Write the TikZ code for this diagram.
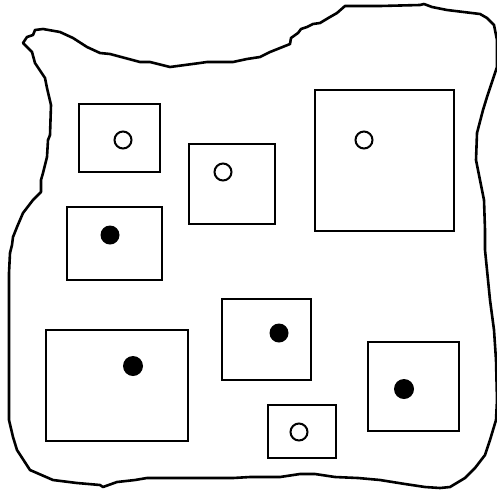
\documentclass[tikz,border=0pt]{standalone}
\usepackage{xcolor}

\begin{document}
\begin{tikzpicture}[x=1pt,y=-1pt,line width=2.2pt,
    box/.style={draw=black,line width=2.2pt},
    hole/.style={draw=black,fill=white,line width=2pt},
    dot/.style={fill=black}]
    \useasboundingbox (0,0) rectangle (497,490);
    % --- rough outline ---
    \draw[line width=2.6pt,line join=round]
      (23,43) -- (27,37) -- (33,35) -- (35,30) -- (43,29) -- (60,32)
      -- (73,38) -- (87,47) -- (100,53) -- (110,54) -- (140,62) -- (150,62)
      -- (170,67) -- (200,63) -- (207,62) -- (233,62) -- (247,59) -- (260,57)
      -- (270,52) -- (290,44) -- (291,38) -- (298,33) -- (301,29) -- (307,27)
      -- (313,24) -- (320,23) -- (330,17) -- (337,13) -- (345,6) -- (380,6)
      -- (420,5) -- (424,4) -- (432,7) -- (447,10) -- (480,14) -- (487,18)
      -- (494,25) -- (497,40) -- (497,67) -- (492,82) -- (487,97) -- (483,110)
      -- (477,133) -- (476,160) -- (480,180) -- (484,200) -- (485,230)
      -- (485,250) -- (487,270) -- (490,300) -- (494,330) -- (496,360)
      -- (497,400) -- (496,420) -- (490,440) -- (485,455) -- (475,468)
      -- (465,478) -- (450,487) -- (440,488) -- (425,487) -- (405,484)
      -- (380,480) -- (358,478) -- (335,477) -- (315,474) -- (300,474)
      -- (280,477) -- (250,477) -- (233,478) -- (147,478) -- (135,480)
      -- (117,482) -- (103,487) -- (100,485) -- (77,483) -- (53,480)
      -- (30,470) -- (17,450) -- (13,437) -- (9,420) -- (9,273) -- (10,253)
      -- (12,245) -- (13,237) -- (17,227) -- (23,213) -- (33,200) -- (41,192)
      -- (41,180) -- (43,173) -- (47,157) -- (48,140) -- (50,135) -- (51,105)
      -- (47,88) -- (45,78) -- (35,63) -- (32,52) -- cycle;
    % --- boxes ---
    \draw[box] (79,104) rectangle (160,172);
    \draw[box] (189,144) rectangle (275,224);
    \draw[box] (315,90) rectangle (454,231);
    \draw[box] (67,207) rectangle (162,280);
    \draw[box] (46,330) rectangle (188,441);
    \draw[box] (222,299) rectangle (311,380);
    \draw[box] (368,342) rectangle (459,431);
    \draw[box] (268,405) rectangle (336,458);
    % --- open circles ---
    \draw[hole] (123,140) circle (8.5);
    \draw[hole] (223,172) circle (8.5);
    \draw[hole] (364,140) circle (8.5);
    \draw[hole] (299,432) circle (8.5);
    % --- filled dots ---
    \fill[dot] (110,235) circle (9.5);
    \fill[dot] (133,366) circle (10);
    \fill[dot] (279,333) circle (9.5);
    \fill[dot] (404,389) circle (10);
\end{tikzpicture}
\end{document}
